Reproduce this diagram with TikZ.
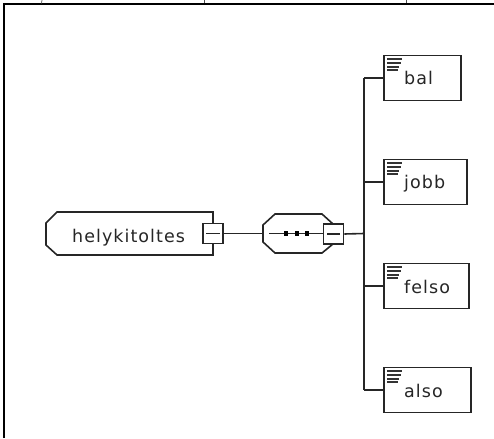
\documentclass[tikz,border=0pt]{standalone}
\usepackage{fontspec}
\newfontfamily\lblfont[LetterSpace=6]{DejaVu Sans}
\begin{document}
\begin{tikzpicture}[x=1pt,y=-1pt,
  ln/.style={line width=1.6pt,draw=black!85},
  pmbox/.style={ln,fill=white,minimum width=20pt,minimum height=20pt,inner sep=0pt,rectangle},
  elembox/.style={ln,fill=white,rectangle,minimum height=45pt,inner sep=0pt,anchor=west},
  lbl/.style={font=\lblfont\fontsize{17.5}{20}\selectfont,text=black!85,inner sep=0pt,anchor=base west}]
\useasboundingbox (0,0) rectangle (494,438);
% outer frame
\draw[line width=1.6pt] (4,438) -- (4,4) -- (494,4);
\draw[line width=0.7pt,black!70] (42,0) -- (41.5,3.5);
\draw[line width=0.7pt,black!70] (204,0) -- (204,3.5);
\draw[line width=0.7pt,black!70] (406,0) -- (406,3.5);
% main element
\draw[ln] (57,212) -- (213,212) -- (213,255) -- (57,255) -- (46,245) -- (46,223) -- cycle;
\node[lbl] (mainlbl) at (72,242) {helykitoltes};
\node[pmbox] (mainpm) at (213,233.5) {};
\draw[ln] (mainpm.center) ++(-7,0) coordinate (m1) -- ++(14,0);
% sequence compositor
\coordinate (seqleft) at (263,233.5);
\draw[ln] (263,225) -- (275,214) -- (322,214) -- (333,224) -- (333,244) -- (322,253) -- (275,253) -- (263,242) -- cycle;
\draw[ln] (269,233.5) -- (323,233.5);
\foreach \x in {286,297,307} \fill[black] (\x-2.3,231.2) rectangle (\x+2.3,235.8);
\node[pmbox] (seqpm) at (333.5,234) {};
\draw[ln] (seqpm.center) ++(-6.5,0) -- ++(13,0);
% connector main -> sequence
\draw[ln] (mainpm.east) -- (seqleft);
% spine
\coordinate (spine) at (364,233.5);
\coordinate (spinetop) at (364,78);
\coordinate (spinebot) at (364,390);
\draw[ln] (seqpm.east) -- (spine);
\draw[ln] (spinetop) -- (spinebot);
% child elements
\foreach \nm/\yy/\w in {bal/78/77,jobb/182/83,felso/286/85,also/390/87}{
  \node[elembox,minimum width=\w pt] (\nm) at (383,\yy) {};
  \draw[ln] (spine |- \nm.west) -- (\nm.west);
  \node[lbl] (\nm lbl) at (404,\yy+7) {\nm};
  \foreach \k/\l in {0/15,1/13.5,2/12,3/10.5}
    \draw[line width=2pt,black!80] (387,\yy-19+3.8*\k) -- ++(\l,0);
}
\end{tikzpicture}
\end{document}
